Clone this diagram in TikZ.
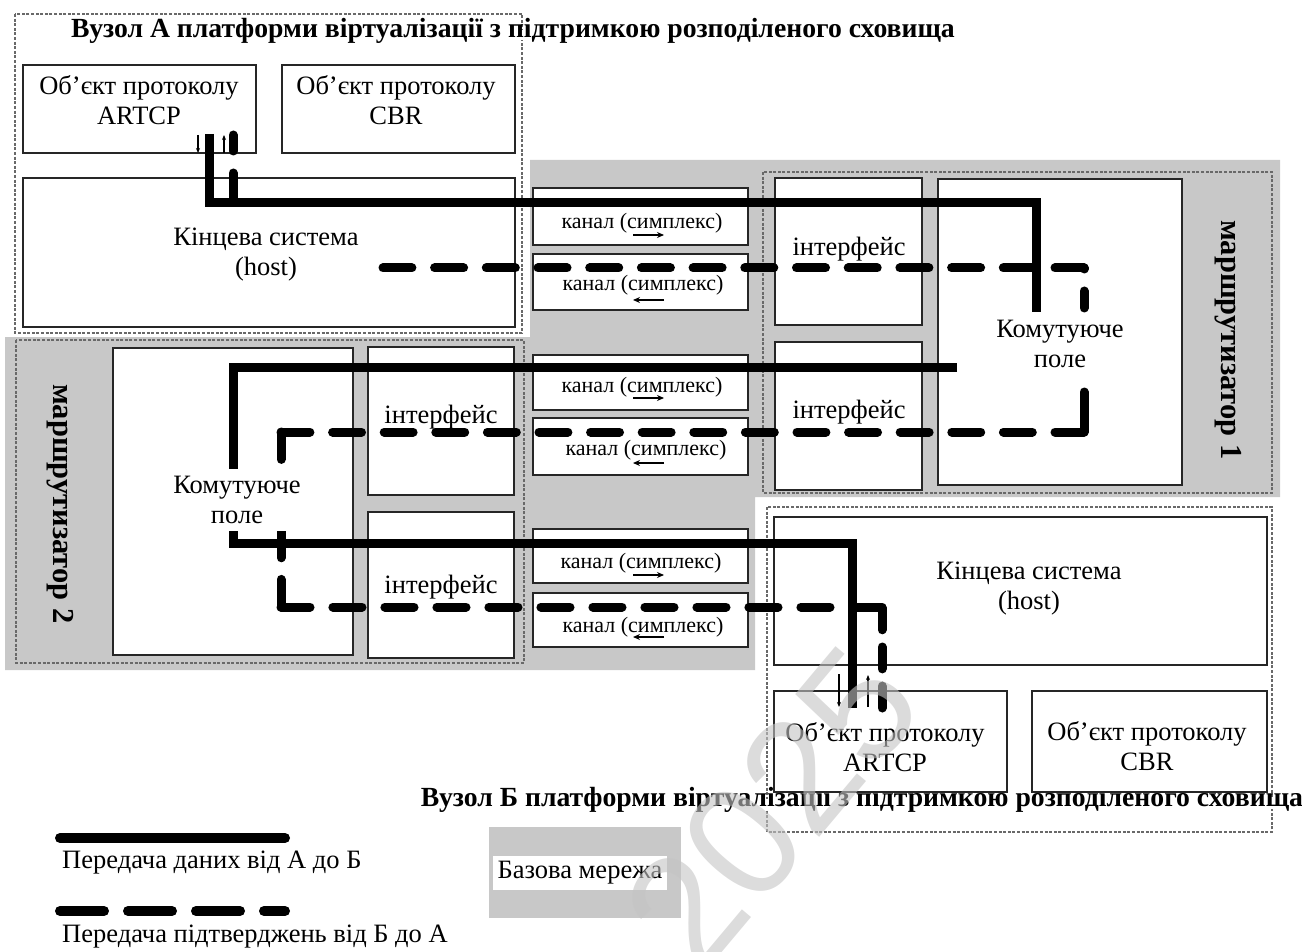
\documentclass[tikz,border=0pt]{standalone}
\usepackage{fontspec}
\setmainfont{Liberation Serif}
\newfontfamily\wmfont{Liberation Sans}
\usetikzlibrary{arrows.meta}

\definecolor{basegray}{RGB}{200,200,200}
\definecolor{framegray}{RGB}{105,105,105}
\definecolor{wmgray}{RGB}{196,196,196}

\begin{document}
\begin{tikzpicture}[x=1pt,y=-1pt,
  box/.style={draw=black!85, line width=1.8pt, fill=white, inner sep=0pt, outer sep=0pt},
  frame/.style={draw=framegray, line width=1.2pt, dash pattern=on 3pt off 1.6pt},
  lbl/.style={font=\fontsize{26.5}{30}\selectfont, align=center, inner sep=0pt},
  fieldlbl/.style={lbl, fill=white, inner xsep=3pt, inner ysep=7pt},
  chlbl/.style={font=\fontsize{22}{26}\selectfont, inner sep=0pt},
  ttl/.style={font=\bfseries\fontsize{27.7}{30}\selectfont, fill=white, inner xsep=2pt, inner ysep=0pt,
              text height=0.72em, text depth=0.2em},
  rname/.style={font=\bfseries\fontsize{30.5}{33}\selectfont, rotate=-90, inner sep=0pt},
  data/.style={line width=9pt, line join=miter},
  ackline/.style={line width=9pt, line cap=round},
  ackseg/.style 2 args={ackline, dash pattern=on #1pt off #2pt},
  tiny/.style={line width=1.6pt, -{Stealth[length=7pt,width=6pt]}},
  tick/.style={line width=1.4pt, -{Stealth[length=5pt,width=4pt]}},
]
\useasboundingbox (0,0) rectangle (1302,952);

% base network (grey area)
\fill[basegray] (5,337) -- (530,337) -- (530,160) -- (1280,160) -- (1280,497)
  -- (755,497) -- (755,670) -- (5,670) -- cycle;

% dotted frames of the two nodes and two routers
\draw[frame] (15,14) rectangle (522,333);
\draw[frame] (763,172) rectangle (1272,493);
\draw[frame] (16,340) rectangle (524,663);
\draw[frame] (767,507) rectangle (1272,832);

% node titles (their white ground breaks the dotted frames)
\node[ttl] (ttlA) at (513,35) {Вузол А платформи віртуалізації з підтримкою розподіленого сховища};
\node[ttl] (ttlB) at (862,804) {Вузол Б платформи віртуалізації з підтримкою розподіленого сховища};

% node A
\node[box, minimum width=233pt, minimum height=88pt]  (artA)  at (139.5,109) {};
\node[box, minimum width=233pt, minimum height=88pt]  (cbrA)  at (398.5,109) {};
\node[box, minimum width=492pt, minimum height=149pt] (hostA) at (269,252.5) {};

% router 1
\node[box, minimum width=147pt, minimum height=147pt] (if1a) at (848.5,251.5) {};
\node[box, minimum width=147pt, minimum height=148pt] (if1b) at (848.5,416) {};
\node[box, minimum width=244pt, minimum height=306pt] (fld1) at (1060,332) {};

% router 2
\node[box, minimum width=240pt, minimum height=307pt] (fld2) at (233,501.5) {};
\node[box, minimum width=146pt, minimum height=148pt] (if2a) at (441,421) {};
\node[box, minimum width=146pt, minimum height=146pt] (if2b) at (441,585) {};

% simplex channels
\node[box, minimum width=215pt, minimum height=57pt] (ch1) at (640.5,216.5) {};
\node[box, minimum width=215pt, minimum height=56pt] (ch2) at (640.5,282) {};
\node[box, minimum width=215pt, minimum height=55pt] (ch3) at (640.5,382.5) {};
\node[box, minimum width=215pt, minimum height=57pt] (ch4) at (640.5,446.5) {};
\node[box, minimum width=215pt, minimum height=54pt] (ch5) at (640.5,556) {};
\node[box, minimum width=215pt, minimum height=54pt] (ch6) at (640.5,620) {};

% node B
\node[box, minimum width=493pt, minimum height=148pt] (hostB) at (1020.5,591) {};
\node[box, minimum width=233pt, minimum height=101pt] (artB)  at (890.5,741.5) {};
\node[box, minimum width=235pt, minimum height=101pt] (cbrB)  at (1149.5,741.5) {};

% labels inside the boxes
\node[lbl] (artAt)  at (139,100) {Об’єкт протоколу\\ARTCP};
\node[lbl] (cbrAt)  at (396,100) {Об’єкт протоколу\\CBR};
\node[lbl] (hostAt) at (266,255) {Кінцева система\\(host)};
\node[lbl] (if1at)  at (849,249) {інтерфейс};
\node[lbl] (if1bt)  at (849,412) {інтерфейс};
\node[lbl] (if2at)  at (441,417) {інтерфейс};
\node[lbl] (if2bt)  at (441,587) {інтерфейс};
\node[lbl] (hostBt) at (1029,589) {Кінцева система\\(host)};
\node[lbl] (artBt)  at (885,747) {Об’єкт протоколу\\ARTCP};
\node[lbl] (cbrBt)  at (1147,746) {Об’єкт протоколу\\CBR};

\node[chlbl] (ch1t) at (642,223) {канал (симплекс)};
\node[chlbl] (ch2t) at (643,285) {канал (симплекс)};
\node[chlbl] (ch3t) at (642,387) {канал (симплекс)};
\node[chlbl] (ch4t) at (646,450) {канал (симплекс)};
\node[chlbl] (ch5t) at (641,563) {канал (симплекс)};
\node[chlbl] (ch6t) at (643,627) {канал (симплекс)};

% direction marks of the channels
\coordinate (c1l) at (633,235); \coordinate (c1r) at (664,235);
\coordinate (c2l) at (633,300); \coordinate (c2r) at (664,300);
\coordinate (c3l) at (633,398); \coordinate (c3r) at (664,398);
\coordinate (c4l) at (633,463); \coordinate (c4r) at (664,463);
\coordinate (c5l) at (633,575); \coordinate (c5r) at (664,575);
\coordinate (c6l) at (633,637); \coordinate (c6r) at (664,637);
\draw[tiny] (c1l) -- (c1r);
\draw[tiny] (c2r) -- (c2l);
\draw[tiny] (c3l) -- (c3r);
\draw[tiny] (c4r) -- (c4l);
\draw[tiny] (c5l) -- (c5r);
\draw[tiny] (c6r) -- (c6l);

% data flow from A to B
\coordinate (dA)  at (209,134);
\coordinate (dR1) at (1036,203);
\coordinate (dR1e) at (1036,312);
\coordinate (dR1o) at (957,367);
\coordinate (dR2) at (233,543);
\coordinate (dB)  at (852,708);
\draw[data] (dA) |- (dR1) -- (dR1e);
\draw[data] (dR1o) -| (dR2) -| (dB);

% acknowledgements from B to A, one dashed run per leg so every bend is inked
\coordinate (aB)   at (882,708);
\coordinate (aBk)  at (882,607);
\coordinate (aR2)  at (281,607);
\coordinate (aR2k) at (281,432);
\coordinate (aR1)  at (1084,432);
\coordinate (aR1k) at (1084,268);
\coordinate (aH)   at (383,268);
\coordinate (aAi)  at (233,222);
\coordinate (aA)   at (233,135);
\draw[ackseg={21.9}{17.2}] (aB) -- (aBk);
\draw[ackseg={29.1}{22.9}] (aBk) -- (aR2);
\draw[ackseg={27.6}{21.6}] (aR2) -- (aR2k);
\draw[ackseg={28.9}{22.7}] (aR2k) -- (aR1);
\draw[ackline, dash pattern=on 40pt off 84pt on 17pt off 22pt on 1pt off 10pt] (aR1) -- (aR1k);
\draw[ackseg={29.0}{22.7}] (aR1k) -- (aH);
\draw[ackseg={28}{22}, dash phase=12pt] (aA) -- (aAi);

% small direction marks at the protocol objects
\coordinate (tA1) at (198,135); \coordinate (tA2) at (198,153);
\coordinate (tA3) at (224,153); \coordinate (tA4) at (224,135);
\coordinate (tB1) at (839,674); \coordinate (tB2) at (839,707);
\coordinate (tB3) at (868,707); \coordinate (tB4) at (868,675);
\draw[tick] (tA1) -- (tA2);
\draw[tick] (tA3) -- (tA4);
\draw[tick] (tB1) -- (tB2);
\draw[tick] (tB3) -- (tB4);

% switching fields (their labels mask the paths)
\node[fieldlbl] (fld1t) at (1060,344) {Комутуюче\\поле};
\node[fieldlbl] (fld2t) at (237,500) {Комутуюче\\поле};

% router names
\node[rname] (r1t) at (1228,340) {маршрутизатор 1};
\node[rname] (r2t) at (60,504) {маршрутизатор 2};

% legend
\coordinate (lg1) at (60,838); \coordinate (lg2) at (285,838);
\coordinate (lg3) at (60,911); \coordinate (lg4) at (285,911);
\draw[line width=10pt, line cap=round] (lg1) -- (lg2);
\draw[line width=10pt, line cap=round, dash pattern=on 44pt off 24pt] (lg3) -- (lg4);
\node[lbl, anchor=west] (lgt1) at (62,863) {Передача даних від А до Б};
\node[lbl, anchor=west] (lgt2) at (62,937) {Передача підтверджень від Б до А};
\fill[basegray] (489,827) rectangle (681,918);
\node[fill=white, minimum width=174pt, minimum height=34pt, inner sep=0pt,
      font=\fontsize{26.5}{30}\selectfont] (lgbase) at (580,873) {Базова мережа};

% year mark
\node[font=\wmfont\fontsize{160}{160}\selectfont, text=wmgray, opacity=0.6,
      rotate=50, inner sep=0pt] (yr) at (772,808) {2025};
\end{tikzpicture}
\end{document}
